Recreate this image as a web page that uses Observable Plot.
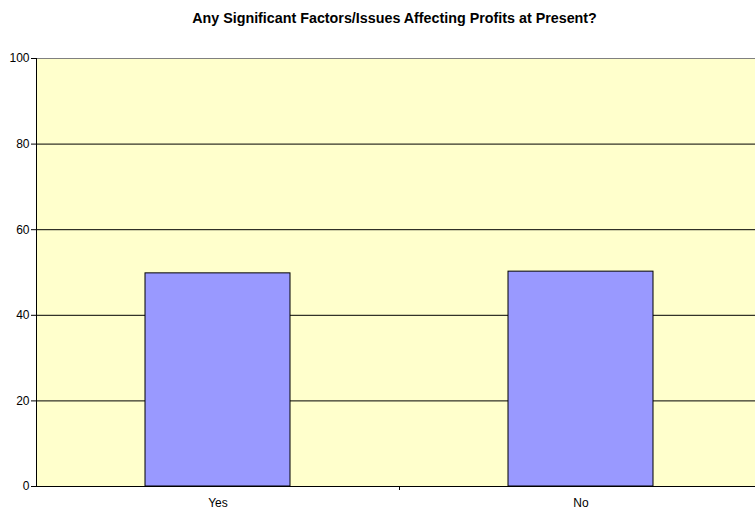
<!DOCTYPE html>
<html>
<head>
<meta charset="utf-8">
<script src="https://cdn.jsdelivr.net/npm/d3@7"></script>
<script src="https://cdn.jsdelivr.net/npm/@observablehq/plot@0.6"></script>
<style>
  html, body { margin: 0; padding: 0; background: white; overflow: hidden; }
  #wrap { position: relative; width: 755px; height: 510px; overflow: hidden; }
  #title { position: absolute; left: 35px; width: 719px; top: 10px; text-align: center;
           font: bold 14.3px "Liberation Sans", Arial, sans-serif; line-height: 16px; color: black; white-space: nowrap; }
  #chart { position: absolute; left: 0; top: 40px; width: 762px; }
  #chart svg { max-width: none !important; }
</style>
</head>
<body>
<div id="wrap">
  <div id="title"></div>
  <div id="chart"></div>
</div>
<script>
const categories = ["Yes", "No"];
const values = [49.8, 50.2];
const yTicks = [0, 20, 40, 60, 80, 100];
const titleText = "Any Significant Factors/Issues Affecting Profits at Present?";

document.getElementById("title").textContent = titleText;

const data = categories.map((c, i) => ({category: c, value: values[i]}));

// plot area extends slightly past the right edge of the window (cropped, as in the reference)
const W = 762, H = 470, mL = 36, mR = 0, mT = 18, mB = 24;
const step = (W - mL - mR) / categories.length;
const plotH = H - mT - mB;

const chart = Plot.plot({
  width: W, height: H,
  marginLeft: mL, marginRight: mR, marginTop: mT, marginBottom: mB,
  style: {fontFamily: '"Liberation Sans", Arial, sans-serif', fontSize: "12px", background: "white", color: "black", maxWidth: "none"},
  x: {domain: categories, paddingInner: 0.6, paddingOuter: 0.3, label: null},
  y: {domain: [0, 100], label: null},
  marks: [
    Plot.frame({fill: "#FFFFCC", stroke: null}),
    Plot.ruleY(yTicks.filter(d => d > 0 && d < 100), {stroke: "black"}),
    Plot.ruleY([100], {stroke: "#808080"}),
    Plot.barY(data, {x: "category", y: "value", fill: "#9999FF", stroke: "black", strokeWidth: 1}),
    Plot.ruleY([0], {stroke: "black"}),
    Plot.ruleX([categories[0]], {dx: -step / 2, stroke: "black"}),
    Plot.ruleX(categories.slice(1), {dx: -step / 2, insetTop: plotH - 4, dy: 4, stroke: "black"}),
    Plot.axisY({ticks: yTicks, tickSize: 5, tickPadding: 2, stroke: "black"}),
    Plot.axisX({tickSize: 0, tickPadding: 12})
  ]
});
document.getElementById("chart").appendChild(chart);
</script>
</body>
</html>
